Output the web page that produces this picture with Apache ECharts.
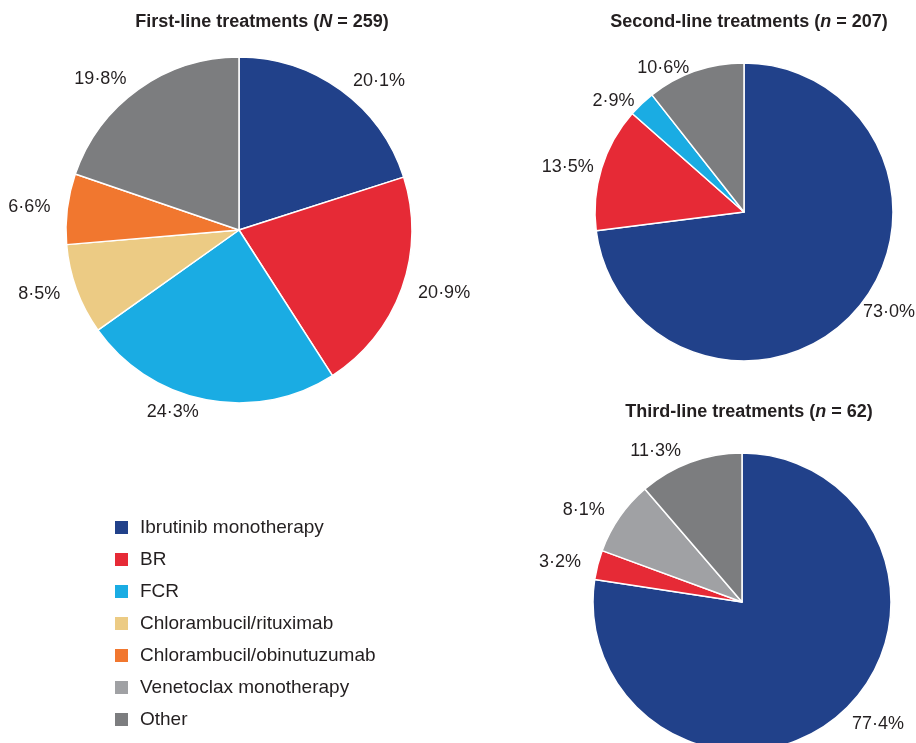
<!DOCTYPE html>
<html><head><meta charset="utf-8">
<script src="https://cdn.jsdelivr.net/npm/echarts@6/dist/echarts.min.js"></script>
<style>html,body{margin:0;padding:0;background:#fff}#c{width:916px;height:743px}</style>
</head><body><div id="c"></div>
<script>
const treatments = ['Ibrutinib monotherapy','BR','FCR','Chlorambucil/rituximab','Chlorambucil/obinutuzumab','Venetoclax monotherapy','Other'];
const colors = ['#21418a','#e62a36','#1aace3','#eccb84','#f1772f','#a0a1a4','#7c7d7f'];
const firstNames = ['Ibrutinib monotherapy','BR','FCR','Chlorambucil/rituximab','Chlorambucil/obinutuzumab','Other'];
const firstValues = [20.1, 20.9, 24.3, 8.5, 6.6, 19.8];
const secondNames = ['Ibrutinib monotherapy','BR','FCR','Other'];
const secondValues = [73.0, 13.5, 2.9, 10.6];
const thirdNames = ['Ibrutinib monotherapy','BR','Venetoclax monotherapy','Other'];
const thirdValues = [77.4, 3.2, 8.1, 11.3];

const colorOf = n => colors[treatments.indexOf(n)];
const fmt = v => v.toFixed(1).replace('.', '\u00b7') + '%';
const mk = (names, vals) => names.map((n, i) => ({name: n, value: vals[i], itemStyle: {color: colorOf(n)}}));

const titleRich = {
  b: {fontFamily: 'Liberation Sans', fontWeight: 'bold', fontSize: 18, color: '#231f20'},
  i: {fontFamily: 'Liberation Sans', fontWeight: 'bold', fontStyle: 'italic', fontSize: 18, color: '#231f20'}
};
function pie(center, radius, names, vals, len) {
  return {
    type: 'pie', center: center, radius: radius, startAngle: 90, clockwise: true,
    avoidLabelOverlap: false,
    data: mk(names, vals),
    itemStyle: {borderColor: '#fff', borderWidth: 1.5},
    label: {show: true, position: 'outside', formatter: p => fmt(p.value),
      fontFamily: 'Liberation Sans', fontSize: 18, color: '#231f20'},
    labelLine: {show: false, length: len, length2: 0},
    emphasis: {disabled: true}, animation: false
  };
}
const chart = echarts.init(document.getElementById('c'), null, {renderer: 'canvas'});
chart.setOption({
  animation: false,
  title: [
    {text: '{b|First-line treatments (}{i|N}{b| = 259)}', left: 257, top: 8, textAlign: 'center', textStyle: {rich: titleRich}},
    {text: '{b|Second-line treatments (}{i|n}{b| = 207)}', left: 744, top: 8, textAlign: 'center', textStyle: {rich: titleRich}},
    {text: '{b|Third-line treatments (}{i|n}{b| = 62)}', left: 744, top: 398, textAlign: 'center', textStyle: {rich: titleRich}}
  ],
  legend: {
    orient: 'vertical', left: 108, top: 513, height: 260, itemWidth: 15, itemHeight: 15, itemGap: 13,
    icon: 'rect', data: treatments, selectedMode: false,
    textStyle: {fontFamily: 'Liberation Sans', fontSize: 19, color: '#231f20', padding: [0, 0, 0, 6]}
  },
  series: [
    pie([239, 230], 173, firstNames, firstValues, 12),
    pie([744, 212], 149, secondNames, secondValues, 3),
    pie([742, 602], 149, thirdNames, thirdValues, 12)
  ]
});
</script></body></html>
